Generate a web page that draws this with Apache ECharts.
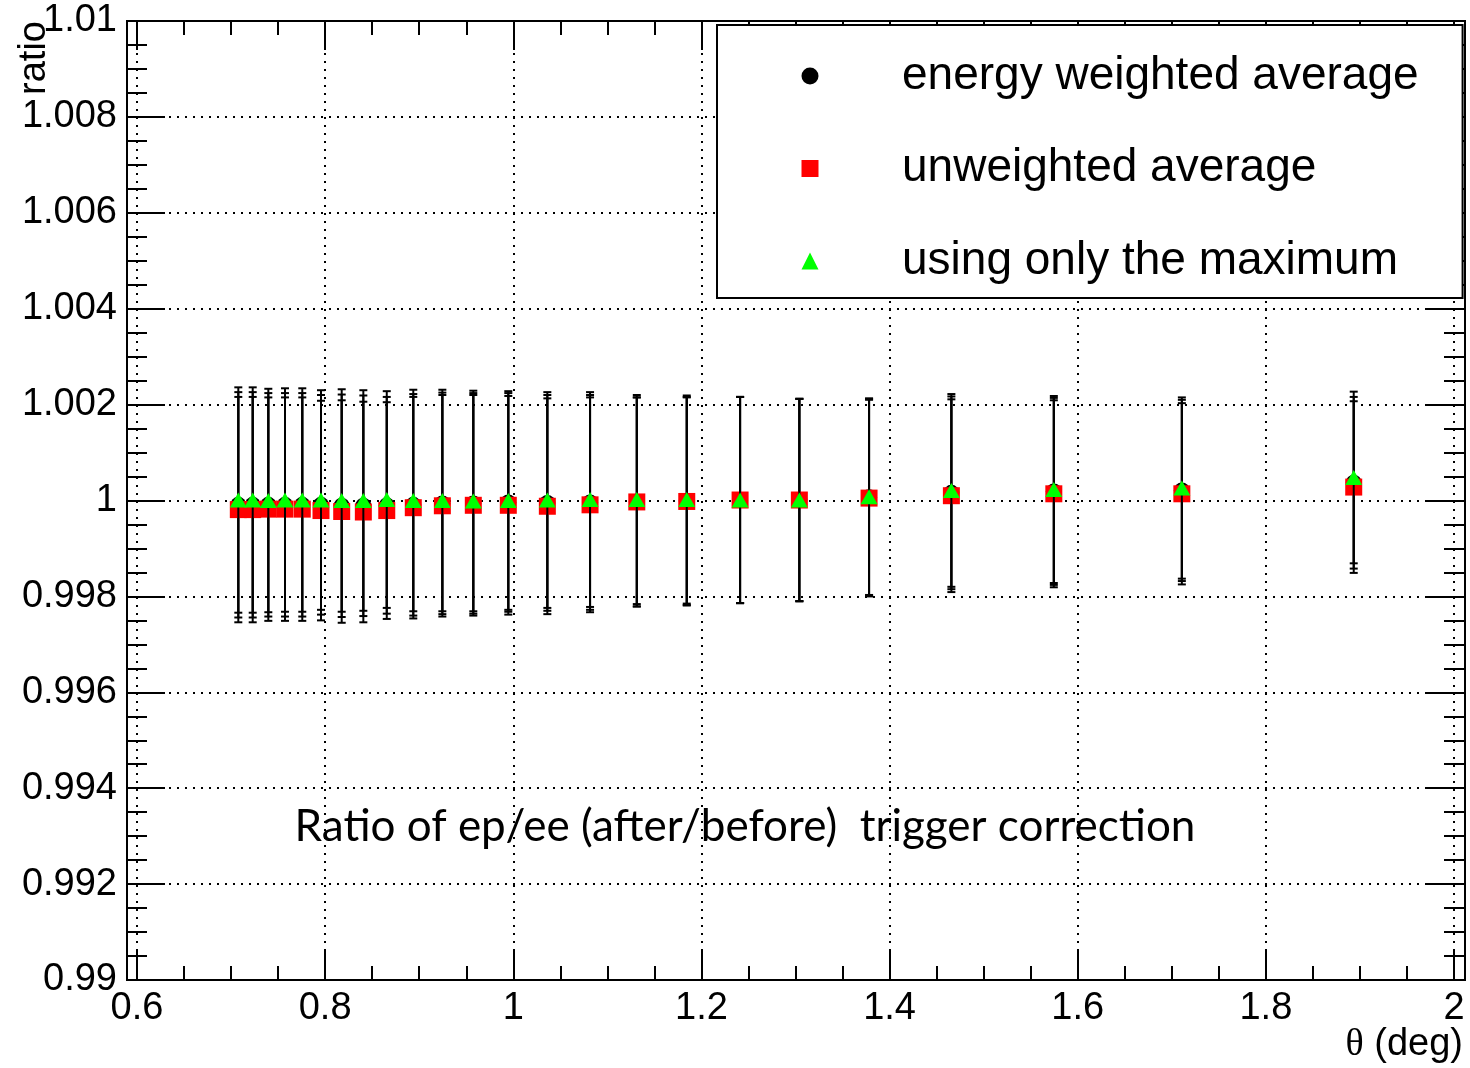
<!DOCTYPE html>
<html>
<head>
<meta charset="utf-8">
<script src="https://cdn.jsdelivr.net/npm/echarts@6/dist/echarts.min.js"></script>
<style>
html,body{margin:0;padding:0;background:#fff;}
#chart{width:1470px;height:1068px;}
</style>
</head>
<body>
<div id="chart"></div>
<script>
// theta bin centres (deg)
const theta = [0.7077, 0.7230, 0.7396, 0.7573, 0.7757, 0.7956, 0.8176, 0.8406, 0.8655, 0.8937, 0.9246, 0.9575,
               0.9947, 1.0362, 1.0816, 1.1313, 1.1844, 1.2411, 1.3041, 1.3782, 1.4657, 1.5746, 1.7107, 1.8934];
// energy weighted average (black circles)
const energyWeighted = [0.99991, 0.99991, 0.99991, 0.99991, 0.99991, 0.99991, 0.99989, 0.99989, 0.99990, 0.99991, 0.99994, 0.99994,
                        0.99996, 0.99995, 0.99996, 0.99997, 0.99999, 1.00001, 1.00001, 1.00007, 1.00016, 1.00019, 1.00021, 1.00037];
// unweighted average (red squares)
const unweighted = [0.99981, 0.99981, 0.99982, 0.99982, 0.99982, 0.99979, 0.99977, 0.99976, 0.99979, 0.99985, 0.99989, 0.99990,
                    0.99990, 0.99988, 0.99991, 0.99997, 0.99998, 1.00001, 1.00001, 1.00005, 1.00010, 1.00014, 1.00014, 1.00028];
// using only the maximum (green triangles)
const maxOnly = [1.00001, 1.00001, 1.00000, 1.00001, 1.00001, 1.00001, 1.00000, 1.00000, 1.00002, 1.00000, 1.00000, 0.99999,
                 1.00000, 1.00001, 1.00002, 1.00002, 1.00002, 1.00001, 1.00001, 1.00008, 1.00021, 1.00023, 1.00026, 1.00048];
// symmetric errors
const errors = [0.00235, 0.00235, 0.00233, 0.00233, 0.00233, 0.00229, 0.00232, 0.00230, 0.00226, 0.00231, 0.00231, 0.00230,
                0.00228, 0.00225, 0.00224, 0.00218, 0.00217, 0.00215, 0.00211, 0.00205, 0.00201, 0.00195, 0.00189, 0.00179];

const xTicks = {min: 0.6, max: 2.0, step: 0.2};
const yTicks = {min: 0.99, max: 1.01, step: 0.002};

const names = ['energy weighted average', 'unweighted average', 'using only the maximum'];
const FONT = 'Liberation Sans, Arial, Helvetica, sans-serif';

function pts(vals) { return theta.map((x, i) => [x, vals[i]]); }
function errs(vals) { return theta.map((x, i) => [x, vals[i] - errors[i], vals[i] + errors[i]]); }

function renderErr(params, api) {
  const x = api.value(0), lo = api.value(1), hi = api.value(2);
  const t = api.coord([x, hi]), b = api.coord([x, lo]);
  const cw = 4;
  const st = {stroke: '#000', lineWidth: 2};
  return {type: 'group', children: [
    {type: 'line', shape: {x1: t[0], y1: t[1], x2: b[0], y2: b[1]}, style: st},
    {type: 'line', shape: {x1: t[0] - cw, y1: t[1], x2: t[0] + cw, y2: t[1]}, style: st},
    {type: 'line', shape: {x1: b[0] - cw, y1: b[1], x2: b[0] + cw, y2: b[1]}, style: st}
  ]};
}

const dotted = {show: true, lineStyle: {color: '#000', width: 2, type: [2, 6]}};
const tickStyle = {color: '#000', width: 2};

const chart = echarts.init(document.getElementById('chart'), null, {renderer: 'canvas'});
chart.setOption({
  animation: false,
  backgroundColor: '#fff',
  grid: {left: 137, right: 16, top: 21, bottom: 88},
  xAxis: [{
    type: 'value', min: xTicks.min, max: xTicks.max, interval: xTicks.step, position: 'bottom',
    axisLine: {show: false},
    axisTick: {show: true, inside: true, length: 29, lineStyle: tickStyle},
    minorTick: {show: true, splitNumber: 4, length: 14, lineStyle: tickStyle},
    splitLine: dotted,
    axisLabel: {color: '#000', fontFamily: FONT, fontSize: 38, margin: 10,
                formatter: v => String(+v.toFixed(2))}
  }, {
    type: 'value', min: xTicks.min, max: xTicks.max, interval: xTicks.step, position: 'top',
    axisLine: {show: false},
    axisTick: {show: true, inside: true, length: 29, lineStyle: tickStyle},
    minorTick: {show: true, splitNumber: 4, length: 14, lineStyle: tickStyle},
    splitLine: {show: false},
    axisLabel: {show: false}
  }],
  yAxis: [{
    type: 'value', min: yTicks.min, max: yTicks.max, interval: yTicks.step, position: 'left', offset: 10,
    axisLine: {show: false},
    axisTick: {show: true, inside: true, length: 38, lineStyle: tickStyle},
    minorTick: {show: true, splitNumber: 4, length: 20, lineStyle: tickStyle},
    splitLine: dotted,
    axisLabel: {color: '#000', fontFamily: FONT, fontSize: 38, margin: 10,
                formatter: v => String(+v.toFixed(3))}
  }, {
    type: 'value', min: yTicks.min, max: yTicks.max, interval: yTicks.step, position: 'right', offset: 10,
    axisLine: {show: false},
    axisTick: {show: true, inside: true, length: 38, lineStyle: tickStyle},
    minorTick: {show: true, splitNumber: 4, length: 20, lineStyle: tickStyle},
    splitLine: {show: false},
    axisLabel: {show: false}
  }],
  legend: {
    orient: 'vertical', left: 717, top: 25,
    padding: [28, 44, 14, 84.5],
    itemWidth: 17, itemHeight: 17, itemGap: 46.5,
    backgroundColor: '#fff', borderColor: '#000', borderWidth: 2, borderRadius: 0,
    selectedMode: false,
    textStyle: {color: '#000', fontFamily: FONT, fontSize: 46, lineHeight: 46, padding: [0, 0, 0, 78.5]},
    data: [{name: names[0], icon: 'circle'}, {name: names[1], icon: 'rect'}, {name: names[2], icon: 'triangle'}]
  },
  graphic: [
    {type: 'rect', z: 50, silent: true, shape: {x: 127, y: 21, width: 1338, height: 959},
     style: {fill: 'none', stroke: '#000', lineWidth: 2}},
    {type: 'text', z: 60, x: 35, y: 58, rotation: Math.PI / 2,
     style: {text: 'ratio', font: '38px ' + FONT, fill: '#000', align: 'center', verticalAlign: 'middle'}},
    {type: 'text', z: 60, x: 1463, y: 1045,
     style: {text: '{t|θ} (deg)', font: '38px ' + FONT, fill: '#000', align: 'right', verticalAlign: 'middle',
             rich: {t: {fontFamily: 'Liberation Serif, Times New Roman, serif', fontSize: 38}}}},
    {type: 'text', z: 60, x: 745, y: 827,
     style: {text: 'Ratio of ep/ee (after/before)  trigger correction', font: '44px Lato, sans-serif',
             fill: '#000', align: 'center', verticalAlign: 'middle'}}
  ],
  series: [
    {type: 'custom', name: 'err0', z: 2, renderItem: renderErr, data: errs(energyWeighted), encode: {x: 0, y: [1, 2]}, silent: true},
    {type: 'scatter', name: names[0], z: 3, symbol: 'circle', symbolSize: 16, itemStyle: {color: '#000', opacity: 1}, data: pts(energyWeighted)},
    {type: 'custom', name: 'err1', z: 4, renderItem: renderErr, data: errs(unweighted), encode: {x: 0, y: [1, 2]}, silent: true},
    {type: 'scatter', name: names[1], z: 5, symbol: 'rect', symbolSize: 17, itemStyle: {color: '#ff0000', opacity: 1}, data: pts(unweighted)},
    {type: 'custom', name: 'err2', z: 6, renderItem: renderErr, data: errs(maxOnly), encode: {x: 0, y: [1, 2]}, silent: true},
    {type: 'scatter', name: names[2], z: 7, symbol: 'triangle', symbolSize: [17, 15], itemStyle: {color: '#00ff00', opacity: 1}, data: pts(maxOnly)}
  ]
});
</script>
</body>
</html>
